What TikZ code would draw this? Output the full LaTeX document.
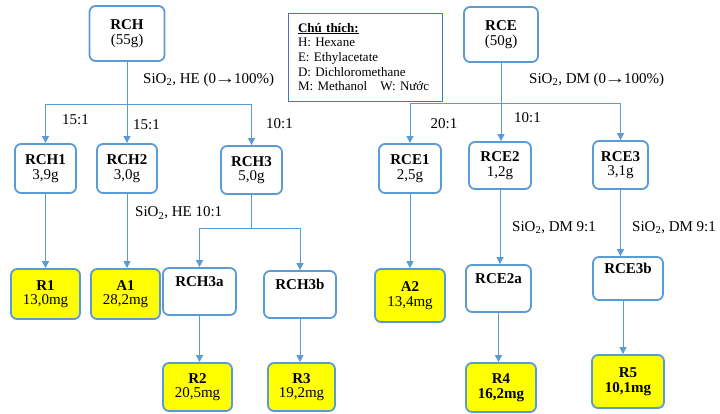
\documentclass[tikz,border=0pt]{standalone}
\usepackage{fontspec}
\setmainfont{Liberation Serif}
\usetikzlibrary{arrows.meta}
\definecolor{bl}{RGB}{91,155,213}
\definecolor{lg}{RGB}{68,114,196}
\definecolor{yl}{RGB}{255,255,0}
\newcommand{\longarr}{\kern-1.5pt\scalebox{1.4}[1]{→}\kern-1.5pt}
\begin{document}
\begin{tikzpicture}[x=1pt,y=-1pt,
 box/.style={draw=bl, line width=1.8pt, rounded corners=6pt, fill=white, inner sep=0pt, align=center, font=\fontsize{15}{14.5}\selectfont},
 res/.style={box, fill=yl},
 sz/.style 2 args={minimum width=#1pt, minimum height=#2pt},
 ln/.style={draw=bl, line width=1pt},
 arr/.style={ln, -{Triangle[length=7pt,width=7pt]}},
 lab/.style={font=\fontsize{15}{15}\selectfont, inner sep=0pt},
]
\useasboundingbox (0,0) rectangle (720,413);

% left tree
\node[box, sz={75}{55}] (RCH) at (127,33.5) {\textbf{RCH}\\(55g)};
\node[box, sz={61}{49}] (RCH1) at (45.5,168.5) {\textbf{RCH1}\\3,9g};
\node[box, sz={60}{49}] (RCH2) at (127,168.5) {\textbf{RCH2}\\3,0g};
\node[box, sz={61}{48}] (RCH3) at (251.5,170) {\textbf{RCH3}\\5,0g};
\node[res, sz={69}{50}] (R1) at (45.5,294) {\textbf{R1}\\13,0mg};
\node[res, sz={69}{50}] (A1) at (125.5,294) {\textbf{A1}\\28,2mg};
\node[box, sz={73}{47}] (RCH3a) at (199.5,291.5) {\textbf{RCH3a}\\[6pt]\mbox{}};
\node[box, sz={72}{47}] (RCH3b) at (300,294.5) {\textbf{RCH3b}\\[6pt]\mbox{}};
\node[res, sz={69}{48}] (R2) at (197.5,387) {\textbf{R2}\\20,5mg};
\node[res, sz={67}{48}] (R3) at (301.5,387) {\textbf{R3}\\19,2mg};

% right tree
\node[box, sz={74}{55}] (RCE) at (501,34.5) {\textbf{RCE}\\(50g)};
\node[box, sz={62}{49}] (RCE1) at (410,168.5) {\textbf{RCE1}\\2,5g};
\node[box, sz={62}{47}] (RCE2) at (500,165.5) {\textbf{RCE2}\\1,2g};
\node[box, sz={55}{48}] (RCE3) at (620.5,165) {\textbf{RCE3}\\3,1g};
\node[res, sz={70}{53}] (A2) at (410,295.5) {\textbf{A2}\\13,4mg};
\node[box, sz={65}{47}] (RCE2a) at (498.5,288.5) {\textbf{RCE2a}\\[6pt]\mbox{}};
\node[res, sz={70}{49}] (R4) at (501,387.5) {\textbf{R4}\\\textbf{16,2mg}};
\node[box, sz={70}{43}] (RCE3b) at (628,278.5) {\textbf{RCE3b}\\[6pt]\mbox{}};
\node[res, sz={72}{53}] (R5) at (628,381.5) {\textbf{R5}\\\textbf{10,1mg}};

% legend
\node[draw=lg, line width=1pt, minimum width=154pt, minimum height=88pt,
      text width=134pt, inner xsep=10pt, align=left,
      font=\fontsize{13}{14.7}\selectfont] (leg) at (365,57)
  {\underline{\textbf{Chú thích:}}\\H: Hexane\\E: Ethylacetate\\D: Dichloromethane\\M: Methanol\quad W: Nước};

% connectors left
\coordinate (j1) at (127,104);
\draw[arr] (RCH.south) -- (RCH.south |- RCH2.north);
\draw[arr] (j1) -| (RCH1.north);
\draw[arr] (j1) -| (RCH3.north);
\draw[arr] (RCH1.south) -- (RCH1.south |- R1.north);
\draw[arr] (RCH2.south) -- (RCH2.south |- A1.north);
\coordinate (j2) at (251.5,228);
\draw[ln] (RCH3.south) -- (j2);
\draw[arr] (j2) -| (RCH3a.north);
\draw[arr] (j2) -| (RCH3b.north);
\draw[arr] (RCH3a.south) -- (RCH3a.south |- R2.north);
\draw[arr] (RCH3b.south) -- (RCH3b.south |- R3.north);

% connectors right
\coordinate (j3) at (501,103);
\draw[arr] (RCE.south) -- (RCE.south |- RCE2.north);
\draw[arr] (j3) -| (RCE1.north);
\draw[arr] (j3) -| (RCE3.north);
\draw[arr] (RCE1.south) -- (RCE1.south |- A2.north);
\draw[arr] (RCE2.south) -- (RCE2.south |- RCE2a.north);
\draw[arr] (RCE2a.south) -- (RCE2a.south |- R4.north);
\draw[arr] (RCE3.south) -- (RCE3.south |- RCE3b.north);
\draw[arr] ([xshift=-5pt]RCE3b.south) -- ([xshift=-5pt]RCE3b.south |- R5.north);

% labels
\node[lab, anchor=west] (l1) at (143,80) {SiO\textsubscript{2}, HE (0\longarr100\%)};
\node[lab] (l2) at (75.5,120) {15:1};
\node[lab] (l3) at (146.5,125) {15:1};
\node[lab] (l4) at (279.5,124) {10:1};
\node[lab, anchor=west] (l5) at (135,213) {SiO\textsubscript{2}, HE 10:1};
\node[lab, anchor=west] (l6) at (529,80) {SiO\textsubscript{2}, DM (0\longarr100\%)};
\node[lab] (l7) at (444,124) {20:1};
\node[lab] (l8) at (527.5,118) {10:1};
\node[lab, anchor=west] (l9) at (512,228) {SiO\textsubscript{2}, DM 9:1};
\node[lab, anchor=west] (l10) at (632,228) {SiO\textsubscript{2}, DM 9:1};
\end{tikzpicture}
\end{document}
